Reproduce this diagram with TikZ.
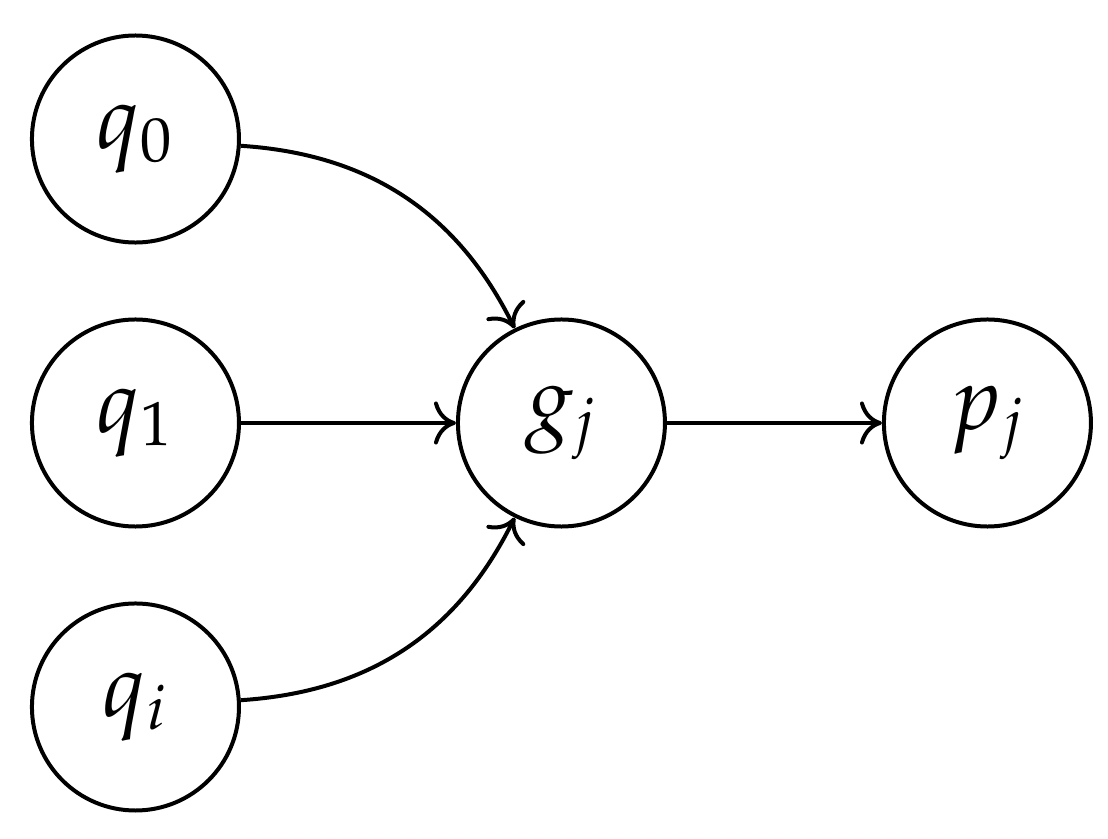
\documentclass[tikz,border=0pt]{standalone}
\usepackage{mathpazo}
\usetikzlibrary{arrows.meta}
\DeclareMathSizes{18}{18}{12.5}{10}
\begin{document}
\begin{tikzpicture}[
  state/.style={circle,draw,line width=0.8pt,minimum size=1.458cm,inner sep=0pt,font=\fontsize{18}{22}\selectfont},
  edge/.style={-{Computer Modern Rightarrow[length=4.4pt,width=8.6pt]},line width=0.8pt}
]
\useasboundingbox (-0.954,-2.923) rectangle (6.849,2.979);
\node[state] (q0) at (0,2) {$q_0$};
\node[state] (q1) at (0,0) {$q_1$};
\node[state] (qi) at (0,-2) {$q_i$};
\node[state] (gj) at (3,0) {$g_j$};
\node[state] (pj) at (6,0) {$p_j$};
\draw[edge] (q0) to[bend left] (gj);
\draw[edge] (q1) -- (gj);
\draw[edge] (qi) to[bend right] (gj);
\draw[edge] (gj) -- (pj);
\end{tikzpicture}
\end{document}
